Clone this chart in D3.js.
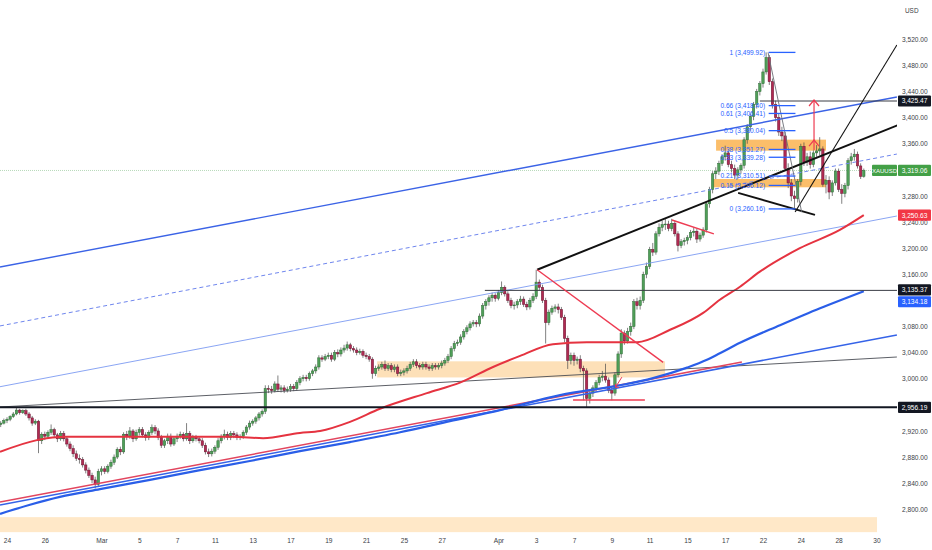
<!DOCTYPE html>
<html><head><meta charset="utf-8">
<script src="https://cdn.jsdelivr.net/npm/d3@7"></script>
<style>body{margin:0;background:#fff}svg{display:block;font-family:"Liberation Sans",Arial,sans-serif}</style>
</head><body><svg id="c" width="932" height="550"></svg>
<script>
// ---- XAUUSD 4H candles (Feb 21 late -> Apr 29), 6 bars per trading day ----
const opens=[2930,2932,
2936,2938,2942,2946,2952,2948, 2951,2946,2940,2932,2935,2905, 2915,2912,2918,2922,2914,2908, 2916,2908,2900,2893,2885,2878, 2876,2868,2860,2852,2845,2838,
2858,2862,2858,2866,2872,2880, 2892,2888,2915,2912,2920,2908, 2918,2922,2914,2910,2918,2925, 2920,2910,2898,2905,2912,2900, 2908,2912,2915,2908,2916,2905,
2910,2908,2905,2898,2888,2885, 2889,2895,2905,2912,2915,2910, 2916,2914,2910,2912,2918,2926, 2932,2935,2940,2946,2950,2985, 2984,2982,2992,2984,2986,2982,
2984,2988,2985,2994,3000,3002, 3000,3008,3012,3018,3032,3030, 3034,3036,3030,3040,3038,3044, 3047,3052,3046,3044,3040,3042, 3036,3034,3030,3008,3016,3018,
3022,3016,3020,3014,3018,3008, 3010,3012,3016,3022,3026,3020, 3018,3022,3018,3016,3020,3018, 3020,3024,3028,3034,3046,3054, 3056,3064,3072,3078,3084,3086,
3084,3096,3112,3118,3124,3128, 3123,3132,3140,3130,3120,3112, 3113,3118,3122,3114,3110,3120, 3126,3148,3140,3120,3086,3102, 3108,3110,3106,3094,3062,3028,
3036,3028,3030,3016,3012,2970, 2978,2986,2994,3002,3004,2998, 2982,2978,3006,3038,3070,3058, 3072,3080,3118,3112,3120,3160, 3172,3198,3194,3222,3232,3236,
3237,3230,3238,3222,3204,3210, 3212,3216,3224,3226,3214,3220, 3228,3268,3290,3314,3318,3330, 3340,3346,3328,3322,3312,3320,
3327,3366,3386,3402,3420,3440, 3452,3470,3492,3455,3420,3400, 3378,3372,3322,3300,3280,3276, 3302,3356,3332,3340,3328,3346, 3349,3352,3298,3304,3286,3300,
3318,3290,3284,3296,3334,3340, 3344,3326,3310];
const highs=[2935,2939,
2941,2944,2949,2956,2954,2953, 2954,2949,2943,2938,2937,2918, 2919,2921,2930,2925,2917,2920, 2920,2912,2904,2898,2890,2884, 2880,2872,2864,2856,2850,2862,
2866,2866,2869,2876,2884,2895, 2896,2918,2920,2926,2923,2922, 2926,2926,2918,2921,2930,2929, 2924,2914,2908,2916,2916,2912, 2916,2919,2918,2932,2920,2914,
2914,2912,2909,2902,2893,2893, 2898,2909,2915,2922,2919,2920, 2920,2918,2915,2921,2929,2936, 2938,2943,2949,2953,2990,2990, 2989,2996,3005,2990,2990,2988,
2992,2992,2998,3004,3006,3006, 3011,3015,3022,3036,3036,3038, 3040,3040,3044,3045,3048,3052, 3057,3055,3050,3048,3046,3045, 3040,3038,3033,3020,3022,3026,
3028,3024,3024,3022,3022,3014, 3016,3020,3026,3030,3030,3024, 3026,3026,3022,3024,3024,3024, 3028,3032,3038,3050,3058,3060, 3068,3076,3082,3088,3090,3090,
3100,3116,3122,3128,3132,3131, 3136,3149,3143,3134,3124,3118, 3122,3127,3126,3118,3124,3131, 3167,3152,3144,3124,3106,3112, 3114,3115,3110,3098,3066,3040,
3040,3034,3036,3020,3016,2984, 2990,2998,3006,3012,3023,3002, 2988,3010,3042,3076,3074,3078, 3086,3122,3124,3126,3164,3178, 3202,3208,3226,3238,3242,3245,
3242,3245,3242,3226,3214,3216, 3220,3228,3232,3230,3224,3232, 3272,3294,3318,3324,3334,3344, 3357,3350,3334,3328,3324,3330,
3370,3390,3406,3424,3444,3456, 3475,3499.92,3496,3460,3426,3406, 3386,3378,3330,3306,3288,3306, 3360,3362,3346,3348,3350,3358, 3370,3356,3312,3310,3304,3322,
3322,3298,3300,3338,3346,3352, 3348,3330,3322];
const lows=[2926,2930,
2932,2935,2940,2944,2945,2946, 2943,2936,2928,2929,2886,2900, 2906,2909,2914,2910,2903,2905, 2904,2896,2889,2880,2874,2870, 2864,2855,2848,2840,2832,2834,
2852,2854,2855,2862,2868,2877, 2883,2885,2906,2908,2903,2905, 2913,2910,2905,2906,2914,2915, 2906,2894,2894,2900,2896,2897, 2903,2908,2904,2905,2900,2902,
2904,2901,2894,2884,2880,2881, 2885,2891,2901,2907,2906,2906, 2909,2906,2906,2908,2914,2922, 2928,2931,2936,2942,2946,2978, 2977,2979,2980,2979,2978,2979,
2980,2981,2982,2990,2996,2996, 2997,3004,3008,3014,3026,3027, 3030,3026,3027,3033,3034,3040, 3043,3042,3040,3036,3037,3032, 3030,3026,3000,3004,3012,3014,
3012,3012,3010,3010,3004,3004, 3005,3008,3012,3018,3016,3014, 3014,3014,3012,3012,3014,3014, 3016,3020,3024,3030,3042,3050, 3052,3060,3068,3074,3080,3079,
3080,3092,3106,3112,3118,3118, 3120,3128,3126,3116,3108,3106, 3108,3113,3110,3105,3106,3116, 3122,3136,3116,3054,3082,3098, 3102,3100,3090,3056,3015,3022,
3020,3022,3010,2967,2956,2962, 2972,2980,2990,2996,2994,2978, 2967,2974,3002,3032,3052,3054, 3066,3076,3106,3106,3116,3154, 3168,3188,3190,3218,3226,3228,
3226,3226,3218,3195,3200,3204, 3206,3212,3218,3208,3210,3216, 3224,3262,3284,3306,3312,3326, 3334,3324,3316,3306,3306,3314,
3322,3360,3380,3396,3414,3434, 3446,3466,3450,3414,3394,3372, 3364,3318,3292,3272,3260.16,3270, 3296,3326,3326,3322,3324,3340, 3342,3294,3284,3275,3280,3296,
3286,3268,3278,3290,3328,3334, 3322,3306,3308];
const closes=[2932,2936,
2938,2942,2946,2952,2948,2951, 2946,2940,2932,2935,2905,2915, 2912,2918,2922,2914,2908,2916, 2908,2900,2893,2885,2878,2876, 2868,2860,2852,2845,2838,2858,
2862,2858,2866,2872,2880,2892, 2888,2915,2912,2920,2908,2918, 2922,2914,2910,2918,2925,2920, 2910,2898,2905,2912,2900,2908, 2912,2915,2908,2916,2905,2910,
2908,2905,2898,2888,2885,2889, 2895,2905,2912,2915,2910,2916, 2914,2910,2912,2918,2926,2932, 2935,2940,2946,2950,2985,2984, 2982,2992,2984,2986,2982,2984,
2988,2985,2994,3000,3002,3000, 3008,3012,3018,3032,3030,3034, 3036,3030,3040,3038,3044,3047, 3052,3046,3044,3040,3042,3036, 3034,3030,3008,3016,3018,3022,
3016,3020,3014,3018,3008,3010, 3012,3016,3022,3026,3020,3018, 3022,3018,3016,3020,3018,3020, 3024,3028,3034,3046,3054,3056, 3064,3072,3078,3084,3086,3084,
3096,3112,3118,3124,3128,3123, 3132,3140,3130,3120,3112,3113, 3118,3122,3114,3110,3120,3126, 3148,3140,3120,3086,3102,3108, 3110,3106,3094,3062,3028,3036,
3028,3030,3016,3012,2970,2978, 2986,2994,3002,3004,2998,2982, 2978,3006,3038,3070,3058,3072, 3080,3118,3112,3120,3160,3172, 3198,3194,3222,3232,3236,3237,
3230,3238,3222,3204,3210,3212, 3216,3224,3226,3214,3220,3228, 3268,3290,3314,3318,3330,3340, 3346,3328,3322,3312,3320,3327,
3366,3386,3402,3420,3440,3452, 3470,3492,3455,3420,3400,3378, 3372,3322,3300,3280,3276,3302, 3356,3332,3340,3328,3346,3349, 3352,3298,3304,3286,3300,3318,
3290,3284,3296,3334,3340,3344, 3326,3310,3319.06];

// ---- axes (ticks hidden behind price labels are omitted) ----
const priceTicks=[3520,3480,3440,3400,3360,3280,3240,3200,3160,3080,3040,3000,2920,2880,2840,2800];
const timeLabels=["24","26","Mar","5","7","11","13","17","19","21","25","27","Apr","3","7","9","11","15","17","22","24","28","30"];
const timeBarIdx=[2,14,32,44,56,68,80,92,104,116,128,140,158,170,182,194,206,218,230,242,254,266,278];

// ---- moving averages [bar index, price] ----
const maRed=[[-0.22,2888],[11.5,2906],[21,2911],[47.4,2911],[73.7,2911],[83.3,2909],[95,2917],[101.4,2920],[110.9,2934],[120.4,2954],[135.3,2978],[145.8,2994],[156.3,3018],[164.9,3035],[175.3,3053],[186.1,3056],[202,3056],[212.5,3075],[223,3101],[228.3,3121],[234.7,3141],[241,3164],[253.7,3200],[266.4,3228],[274,3250.63]];
const maBlue=[[-0.22,2793],[9.3,2807],[18.8,2819],[31.5,2831],[47.4,2845],[63.3,2860],[79.1,2874],[95,2889],[110.9,2903],[126.8,2918],[142.6,2935],[158.5,2952],[177.6,2975],[196.6,2990],[207.1,3001],[217.9,3017],[224.2,3029],[228.3,3039],[234.7,3055],[247.4,3082],[260.1,3108],[274,3134.18]];

// ---- drawings (anchors in bar index / price) ----
const channelTop=[[-0.22,3171.2],[284.5,3431.6]];
const channelMidDash=[[-0.22,3080.9],[284.5,3344.2]];
const channelThin=[[-0.22,2987.8],[284.5,3249.3]];
const channelLow=[[-0.22,2806.6],[284.5,3067.1]];
const redTrend=[[-0.22,2811.2],[235.3,3025.7]];
const greyTrend=[[-0.22,2956.7],[284.5,3033.3]];
const blackTrend=[[170.3,3167],[284.9,3388.7]];
const blackSteep=[[252.2,3255.4],[284.5,3511.3]];
const blackWedge=[[234.1,3284.6],[258.5,3251.2]];
const redFromTop=[[170.3,3167],[210.3,3025.1]];
const redBase=[[181.7,2967.5],[204.5,2967.5]];
const redFlag=[[213.1,3243.2],[226.4,3221.8]];
const redSmallArrow=[[197.2,3002.5],[195.2,2987]];
const redUpArrow={idx:258.2,from:3350.4,to:3427,mid:3365.7};
const hLevels=[{v:2956.19,from:-1,w:2,c:"#131722"},{v:3135.37,from:153.7,w:1,c:"#3a3d45"},{v:3425.47,from:241,w:1,c:"#3a3d45"}];
const zones=[{i1:-0.22,i2:278.2,v1:2788,v2:2765,c:"#ffe8c8"},{i1:119.5,i2:210.9,v1:3026.7,v2:3002,c:"#fde0b8"},
             {i1:227.1,i2:262,v1:3366.3,v2:3349.4,c:"#fbbe6a"},{i1:225.8,i2:262,v1:3306,v2:3293.3,c:"#fbbe6a"}];
const fibHigh=3499.92, fibLow=3260.16, fibStart=243.8, fibEnd=252.3;
const fibLevels=[1,0.66,0.61,0.5,0.38,0.33,0.21,0.15,0];
const fibDiag=[[243.6,3499.92],[254.3,3255]];
const lastPrice=3319.06;

// ---- build ----
const svg=d3.select("#c");
const W=932,H=550,plotR=897,plotB=535;
const x=d3.scaleLinear().domain([2,278]).range([7,876.4]);
const y=d3.scaleLinear().domain([2800,3520]).range([509.3,39.3]);
svg.append("rect").attr("width",W).attr("height",H).attr("fill","#fff");
svg.append("defs").append("clipPath").attr("id","clip").append("rect").attr("x",0).attr("y",0).attr("width",plotR).attr("height",plotB);
const P=svg.append("g").attr("clip-path","url(#clip)");

// last price line
P.append("line").attr("x1",0).attr("x2",plotR).attr("y1",y(lastPrice)).attr("y2",y(lastPrice))
 .attr("stroke","#b9d9bb").attr("stroke-width",1).attr("stroke-dasharray","1,1");

// zones
P.selectAll("rect.zone").data(zones).join("rect").attr("class","zone")
 .attr("x",d=>x(d.i1)).attr("width",d=>x(d.i2)-x(d.i1))
 .attr("y",d=>y(d.v1)).attr("height",d=>y(d.v2)-y(d.v1)).attr("fill",d=>d.c);

// candles
const N=closes.length;
const bars=d3.range(N).map(i=>({i,o:opens[i],h:highs[i],l:lows[i],c:closes[i]}));
const gC=P.append("g");
gC.selectAll("line.w").data(bars).join("line").attr("class","w")
 .attr("x1",d=>x(d.i)).attr("x2",d=>x(d.i)).attr("y1",d=>y(d.h)).attr("y2",d=>y(d.l))
 .attr("stroke","#4a4a4a").attr("stroke-width",0.7);
gC.selectAll("rect.b").data(bars).join("rect").attr("class","b")
 .attr("x",d=>x(d.i)-1.2).attr("width",2.4)
 .attr("y",d=>y(Math.max(d.o,d.c))).attr("height",d=>Math.max(0.8,Math.abs(y(d.o)-y(d.c))))
 .attr("fill",d=>d.c>=d.o?"#4f9f58":"#b02a52")
 .attr("stroke",d=>d.c>=d.o?"#2f6b36":"#6b1530").attr("stroke-width",0.5);

// helper for straight segments
function seg(pts,stroke,w,dash){
  P.append("line").attr("x1",x(pts[0][0])).attr("y1",y(pts[0][1])).attr("x2",x(pts[1][0])).attr("y2",y(pts[1][1]))
   .attr("stroke",stroke).attr("stroke-width",w).attr("stroke-dasharray",dash||null).attr("fill","none");
}
seg(channelTop,"#3b63e6",1.4);
seg(channelMidDash,"#6f86ee",1,"4,3");
seg(channelThin,"#7d9bf2",0.9);
seg(greyTrend,"#4a4d55",0.9);
seg(channelLow,"#3563e8",1.5);
seg(redTrend,"#e2455e",1.5);

// moving averages
const ln=d3.line().x(d=>x(d[0])).y(d=>y(d[1])).curve(d3.curveMonotoneX);
P.append("path").attr("d",ln(maBlue)).attr("fill","none").attr("stroke","#2a5ee8").attr("stroke-width",2.2);
P.append("path").attr("d",ln(maRed)).attr("fill","none").attr("stroke","#e53340").attr("stroke-width",2);

// horizontal levels
hLevels.forEach(h=>{P.append("line").attr("x1",x(h.from)).attr("x2",plotR).attr("y1",y(h.v)).attr("y2",y(h.v))
 .attr("stroke",h.c).attr("stroke-width",h.w);});

// black trendlines
seg(blackTrend,"#111",2);
seg(blackSteep,"#111",1.1);
seg(blackWedge,"#111",1.8);

// red drawings
seg(redFromTop,"#ee3b52",1.4);
seg(redBase,"#ee3b52",1.6);
seg(redFlag,"#ee3b52",1.4);
seg(redSmallArrow,"#ee3b52",1);
{const a=redSmallArrow[1], px=x(a[0]), py=y(a[1]);
 P.append("path").attr("d",`M${px+3.5},${py} L${px},${py} L${px},${py-3.5}`).attr("fill","none").attr("stroke","#ee3b52").attr("stroke-width",1);}
{const ax=x(redUpArrow.idx);
 P.append("line").attr("x1",ax).attr("x2",ax).attr("y1",y(redUpArrow.from)).attr("y2",y(redUpArrow.to)).attr("stroke","#ee3b52").attr("stroke-width",1.2);
 [redUpArrow.to,redUpArrow.mid].forEach(v=>{const py=y(v);
  P.append("path").attr("d",`M${ax-5},${py+6} L${ax},${py} L${ax+5},${py+6}`).attr("fill","none").attr("stroke","#ee3b52").attr("stroke-width",1.2);});}

// fib retracement
seg(fibDiag,"#6b6e76",0.9);
const fibG=P.append("g");
fibLevels.forEach(l=>{
  const v=fibLow+l*(fibHigh-fibLow), py=y(v);
  fibG.append("line").attr("x1",x(fibStart)).attr("x2",x(fibEnd)).attr("y1",py).attr("y2",py).attr("stroke","#2962ff").attr("stroke-width",1.3);
  fibG.append("text").attr("x",x(fibStart)-3.5).attr("y",py).attr("dy","0.35em").attr("text-anchor","end")
   .attr("font-size",6.6).attr("fill","#2962ff").text(`${l} (${d3.format(",.2f")(v)})`);
});

// price axis
const ay=svg.append("g").attr("transform","translate(902,0)")
 .call(d3.axisRight(y).tickValues(priceTicks).tickFormat(d3.format(",.2f")).tickSize(0).tickPadding(0));
ay.select(".domain").remove();
ay.selectAll("text").attr("font-size",6.6).attr("fill","#3b3e46").attr("font-family","Liberation Sans, Arial, sans-serif");
svg.append("text").attr("x",905).attr("y",13).attr("font-size",6.4).attr("fill","#3b3e46").text("USD");

// time axis
const ax=svg.append("g").attr("transform",`translate(0,${plotB})`)
 .call(d3.axisBottom(x).tickValues(timeBarIdx).tickFormat((d,i)=>timeLabels[i]).tickSize(0).tickPadding(3));
ax.select(".domain").remove();
ax.selectAll("text").attr("font-size",6.6).attr("fill","#3b3e46").attr("font-family","Liberation Sans, Arial, sans-serif");

// price labels on axis
function box(v,fill,txt,dy){
  const cy=y(v)+(dy||0);
  svg.append("rect").attr("x",898).attr("y",cy-5.6).attr("width",33).attr("height",11.2).attr("fill",fill).attr("rx",1);
  svg.append("text").attr("x",914.5).attr("y",cy).attr("dy","0.36em").attr("text-anchor","middle").attr("font-size",6.6).attr("fill","#fff").text(txt);
}
box(3425.47,"#131722","3,425.47");
box(lastPrice,"#43a047","3,319.06");
svg.append("rect").attr("x",872).attr("y",y(lastPrice)-5.6).attr("width",25).attr("height",11.2).attr("fill","#43a047").attr("rx",1);
svg.append("text").attr("x",884.5).attr("y",y(lastPrice)).attr("dy","0.36em").attr("text-anchor","middle").attr("font-size",6).attr("fill","#fff").text("XAUUSD");
box(3250.63,"#f23645","3,250.63");
box(3135.37,"#131722","3,135.37",-0.6);
box(3134.18,"#2962ff","3,134.18",10.6);
box(2956.19,"#131722","2,956.19");
</script></body></html>
